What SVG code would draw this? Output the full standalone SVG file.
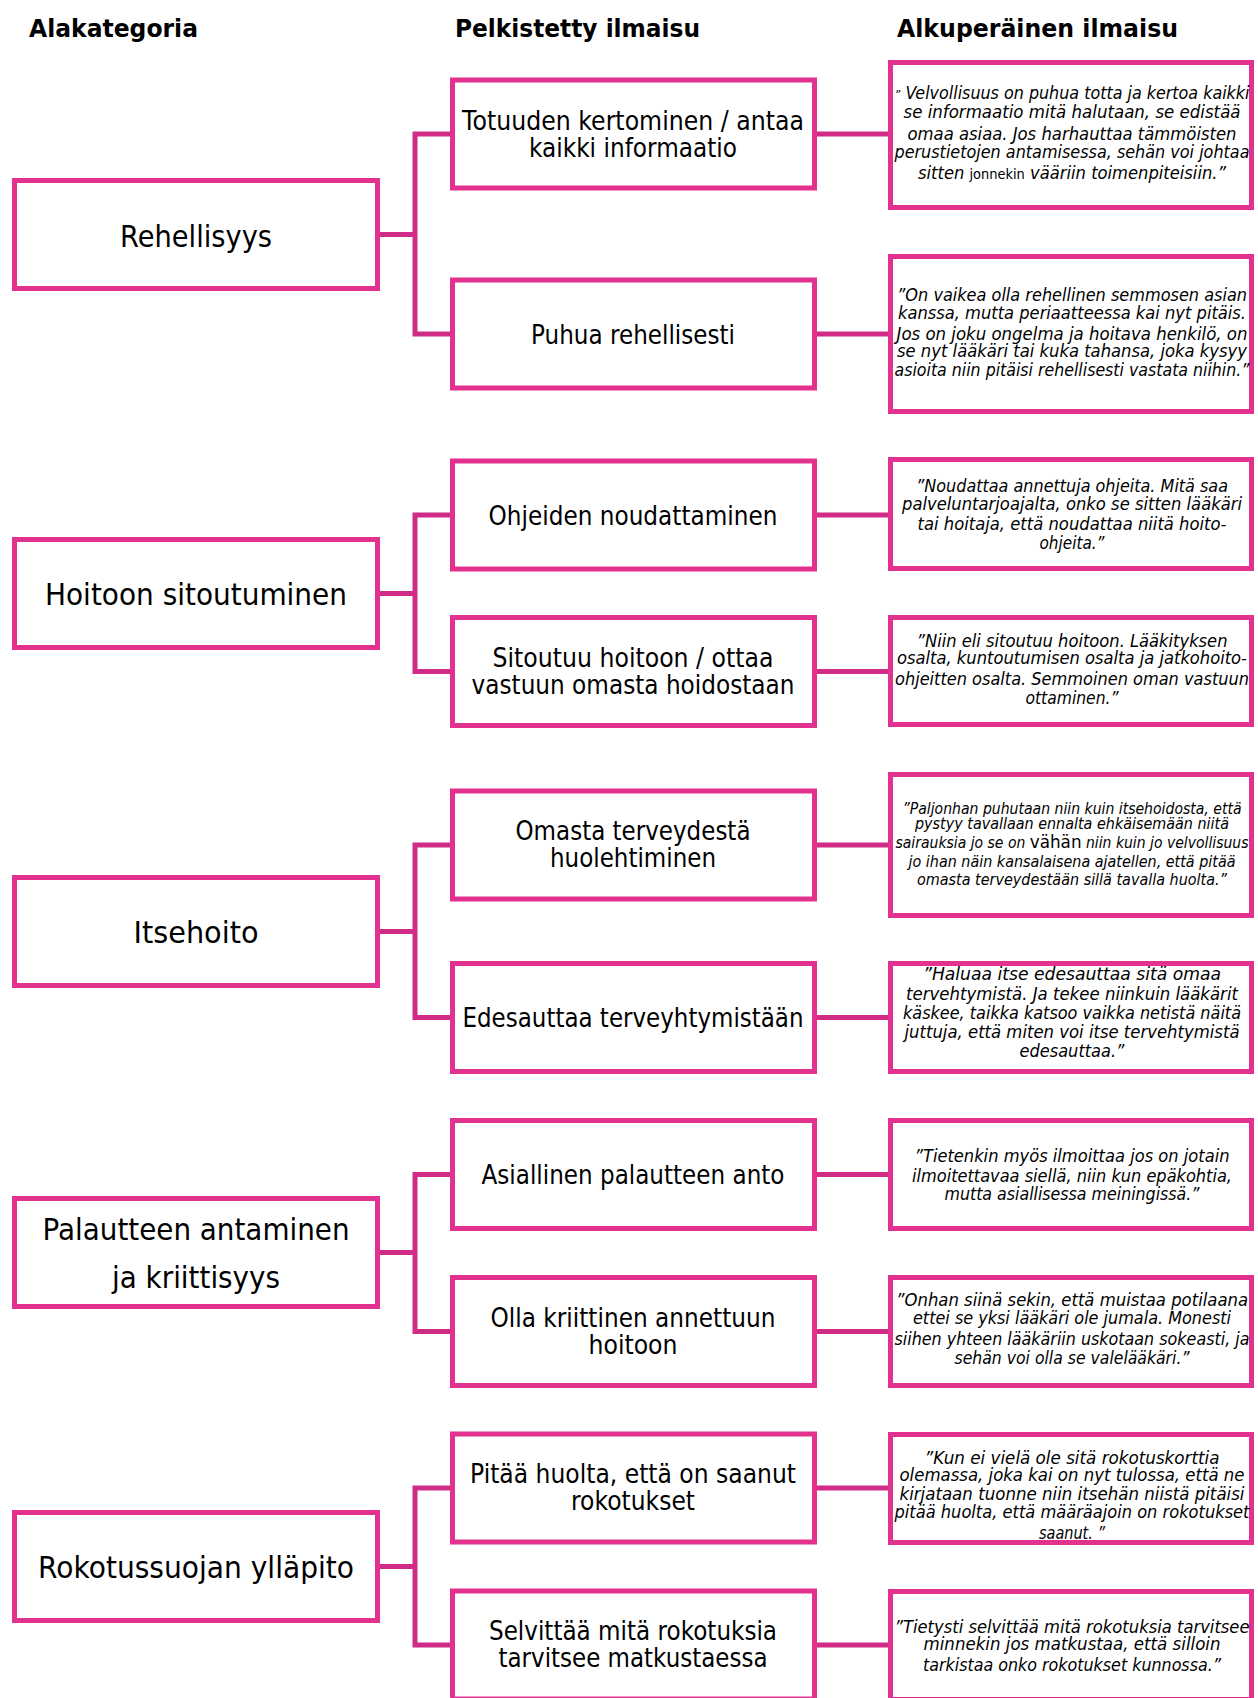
<svg xmlns="http://www.w3.org/2000/svg" width="1258" height="1698" viewBox="0 0 1258 1698">
  <style>
    .box { fill: #ffffff; stroke: #e2318f; stroke-width: 5; }
    .link { fill: none; stroke: #d02b87; stroke-width: 5; }
    text { font-family: "DejaVu Sans", Verdana, sans-serif; fill: #000000; }
    .head { font-weight: bold; font-size: 25px; }
    .cat { font-size: 31px; text-anchor: middle; }
    .simp { font-size: 27px; text-anchor: middle; }
    .quote { font-size: 17px; font-style: italic; text-anchor: middle; }
    .quote.sm { font-size: 15px; }
  </style>

  <rect width="1258" height="1698" fill="#ffffff"/>

  <!-- column headings -->
  <g id="headings">
    <text class="head" x="29" y="37" textLength="169" lengthAdjust="spacingAndGlyphs">Alakategoria</text>
    <text class="head" x="455" y="37" textLength="245" lengthAdjust="spacingAndGlyphs">Pelkistetty ilmaisu</text>
    <text class="head" x="897" y="37" textLength="281" lengthAdjust="spacingAndGlyphs">Alkuperäinen ilmaisu</text>
  </g>

  <!-- connectors -->
  <g id="connectors">
    <path class="link" d="M379,234.5 H415 M451,134 H415 V334 H451"/>
    <path class="link" d="M379,593.5 H415 M451,515 H415 V671.5 H451"/>
    <path class="link" d="M379,931.5 H415 M451,845 H415 V1017.5 H451"/>
    <path class="link" d="M379,1252.5 H415 M451,1174.5 H415 V1331.5 H451"/>
    <path class="link" d="M379,1566.5 H415 M451,1488 H415 V1645 H451"/>
    <path class="link" d="M816,134 H889"/>
    <path class="link" d="M816,334 H889"/>
    <path class="link" d="M816,515 H889"/>
    <path class="link" d="M816,671.5 H889"/>
    <path class="link" d="M816,845 H889"/>
    <path class="link" d="M816,1017.5 H889"/>
    <path class="link" d="M816,1174.5 H889"/>
    <path class="link" d="M816,1331.5 H889"/>
    <path class="link" d="M816,1488 H889"/>
    <path class="link" d="M816,1645 H889"/>
  </g>

  <!-- subcategories -->
  <g id="cat-rehellisyys">
    <rect class="box" x="14.5" y="180.5" width="363" height="108"/>
    <text class="cat" x="196" y="246.5" textLength="152" lengthAdjust="spacingAndGlyphs">Rehellisyys</text>
  </g>
  <g id="cat-hoitoon-sitoutuminen">
    <rect class="box" x="14.5" y="539.5" width="363" height="108"/>
    <text class="cat" x="196" y="605" textLength="302" lengthAdjust="spacingAndGlyphs">Hoitoon sitoutuminen</text>
  </g>
  <g id="cat-itsehoito">
    <rect class="box" x="14.5" y="877.5" width="363" height="108"/>
    <text class="cat" x="196" y="943" textLength="125" lengthAdjust="spacingAndGlyphs">Itsehoito</text>
  </g>
  <g id="cat-palautteen-antaminen">
    <rect class="box" x="14.5" y="1198.5" width="363" height="108"/>
    <text class="cat" x="196" y="1240" textLength="307" lengthAdjust="spacingAndGlyphs">Palautteen antaminen</text>
    <text class="cat" x="196" y="1288" textLength="168" lengthAdjust="spacingAndGlyphs">ja kriittisyys</text>
  </g>
  <g id="cat-rokotussuoja">
    <rect class="box" x="14.5" y="1512.5" width="363" height="108"/>
    <text class="cat" x="196" y="1578" textLength="316" lengthAdjust="spacingAndGlyphs">Rokotussuojan ylläpito</text>
  </g>

  <!-- simplified expressions -->
  <g id="simp-totuuden">
    <rect class="box" x="452.5" y="80" width="362" height="108"/>
    <text class="simp" x="633" y="130" textLength="342" lengthAdjust="spacingAndGlyphs">Totuuden kertominen / antaa</text>
    <text class="simp" x="633" y="157" textLength="208" lengthAdjust="spacingAndGlyphs">kaikki informaatio</text>
  </g>
  <g id="simp-puhua">
    <rect class="box" x="452.5" y="280" width="362" height="108"/>
    <text class="simp" x="633" y="343.5" textLength="204" lengthAdjust="spacingAndGlyphs">Puhua rehellisesti</text>
  </g>
  <g id="simp-ohjeiden">
    <rect class="box" x="452.5" y="461" width="362" height="108"/>
    <text class="simp" x="633" y="524.5" textLength="289" lengthAdjust="spacingAndGlyphs">Ohjeiden noudattaminen</text>
  </g>
  <g id="simp-sitoutuu">
    <rect class="box" x="452.5" y="617.5" width="362" height="108"/>
    <text class="simp" x="633" y="667" textLength="281" lengthAdjust="spacingAndGlyphs">Sitoutuu hoitoon / ottaa</text>
    <text class="simp" x="633" y="694" textLength="323" lengthAdjust="spacingAndGlyphs">vastuun omasta hoidostaan</text>
  </g>
  <g id="simp-omasta">
    <rect class="box" x="452.5" y="791" width="362" height="108"/>
    <text class="simp" x="633" y="840" textLength="235" lengthAdjust="spacingAndGlyphs">Omasta terveydestä</text>
    <text class="simp" x="633" y="867" textLength="166" lengthAdjust="spacingAndGlyphs">huolehtiminen</text>
  </g>
  <g id="simp-edesauttaa">
    <rect class="box" x="452.5" y="963.5" width="362" height="108"/>
    <text class="simp" x="633" y="1027" textLength="341" lengthAdjust="spacingAndGlyphs">Edesauttaa terveyhtymistään</text>
  </g>
  <g id="simp-asiallinen">
    <rect class="box" x="452.5" y="1120.5" width="362" height="108"/>
    <text class="simp" x="633" y="1184" textLength="303" lengthAdjust="spacingAndGlyphs">Asiallinen palautteen anto</text>
  </g>
  <g id="simp-kriittinen">
    <rect class="box" x="452.5" y="1277.5" width="362" height="108"/>
    <text class="simp" x="633" y="1327" textLength="285" lengthAdjust="spacingAndGlyphs">Olla kriittinen annettuun</text>
    <text class="simp" x="633" y="1354" textLength="89" lengthAdjust="spacingAndGlyphs">hoitoon</text>
  </g>
  <g id="simp-pitaa-huolta">
    <rect class="box" x="452.5" y="1434" width="362" height="108"/>
    <text class="simp" x="633" y="1483" textLength="326" lengthAdjust="spacingAndGlyphs">Pitää huolta, että on saanut</text>
    <text class="simp" x="633" y="1510" textLength="124" lengthAdjust="spacingAndGlyphs">rokotukset</text>
  </g>
  <g id="simp-selvittaa">
    <rect class="box" x="452.5" y="1591" width="362" height="108"/>
    <text class="simp" x="633" y="1640" textLength="288" lengthAdjust="spacingAndGlyphs">Selvittää mitä rokotuksia</text>
    <text class="simp" x="633" y="1667" textLength="269" lengthAdjust="spacingAndGlyphs">tarvitsee matkustaessa</text>
  </g>

  <!-- original expressions (quotes) -->
  <g id="quote-velvollisuus">
    <rect class="box" x="890.5" y="62.5" width="361" height="145"/>
    <text class="quote" x="1072" y="99" textLength="355" lengthAdjust="spacingAndGlyphs"><tspan font-size="12">”</tspan> Velvollisuus on puhua totta ja kertoa kaikki</text>
    <text class="quote" x="1072" y="118" textLength="337" lengthAdjust="spacingAndGlyphs">se informaatio  mitä halutaan, se edistää</text>
    <text class="quote" x="1072" y="140" textLength="329" lengthAdjust="spacingAndGlyphs">omaa asiaa. Jos harhauttaa tämmöisten</text>
    <text class="quote" x="1072" y="158" textLength="355" lengthAdjust="spacingAndGlyphs">perustietojen antamisessa, sehän voi johtaa</text>
    <text class="quote" x="1072" y="179" textLength="308" lengthAdjust="spacingAndGlyphs">sitten <tspan font-size="13.5" font-style="normal">jonnekin</tspan> vääriin toimenpiteisiin.”</text>
  </g>
  <g id="quote-vaikea">
    <rect class="box" x="890.5" y="256.5" width="361" height="155"/>
    <text class="quote" x="1072" y="300.5" textLength="350" lengthAdjust="spacingAndGlyphs">”On vaikea olla rehellinen semmosen asian</text>
    <text class="quote" x="1072" y="318.5" textLength="348" lengthAdjust="spacingAndGlyphs">kanssa, mutta periaatteessa kai nyt pitäis.</text>
    <text class="quote" x="1072" y="339.5" textLength="351" lengthAdjust="spacingAndGlyphs">Jos on joku ongelma ja hoitava henkilö, on</text>
    <text class="quote" x="1072" y="357" textLength="350" lengthAdjust="spacingAndGlyphs">se nyt lääkäri tai kuka tahansa, joka kysyy</text>
    <text class="quote" x="1072" y="375.5" textLength="355" lengthAdjust="spacingAndGlyphs">asioita niin pitäisi rehellisesti vastata niihin.”</text>
  </g>
  <g id="quote-noudattaa">
    <rect class="box" x="890.5" y="459.5" width="361" height="109"/>
    <text class="quote" x="1072" y="491.5" textLength="312" lengthAdjust="spacingAndGlyphs">”Noudattaa annettuja ohjeita. Mitä saa</text>
    <text class="quote" x="1072" y="510" textLength="340" lengthAdjust="spacingAndGlyphs">palveluntarjoajalta, onko se sitten lääkäri</text>
    <text class="quote" x="1072" y="529.5" textLength="309" lengthAdjust="spacingAndGlyphs">tai hoitaja, että noudattaa niitä hoito-</text>
    <text class="quote" x="1072" y="548.5" textLength="65" lengthAdjust="spacingAndGlyphs">ohjeita.”</text>
  </g>
  <g id="quote-sitoutuu">
    <rect class="box" x="890.5" y="617.5" width="361" height="107"/>
    <text class="quote" x="1072" y="646.5" textLength="311" lengthAdjust="spacingAndGlyphs">”Niin eli sitoutuu hoitoon. Lääkityksen</text>
    <text class="quote" x="1072" y="664" textLength="350" lengthAdjust="spacingAndGlyphs">osalta, kuntoutumisen osalta ja jatkohoito-</text>
    <text class="quote" x="1072" y="685" textLength="354" lengthAdjust="spacingAndGlyphs">ohjeitten osalta. Semmoinen oman vastuun</text>
    <text class="quote" x="1072" y="703.5" textLength="93" lengthAdjust="spacingAndGlyphs">ottaminen.”</text>
  </g>
  <g id="quote-itsehoidosta">
    <rect class="box" x="890.5" y="774.5" width="361" height="141"/>
    <text class="quote sm" x="1072" y="814" textLength="339" lengthAdjust="spacingAndGlyphs">”Paljonhan puhutaan niin kuin itsehoidosta, että</text>
    <text class="quote sm" x="1072" y="829" textLength="314" lengthAdjust="spacingAndGlyphs">pystyy tavallaan ennalta ehkäisemään niitä</text>
    <text class="quote sm" x="1072" y="848" textLength="353" lengthAdjust="spacingAndGlyphs">sairauksia jo se on <tspan font-size="18" font-style="normal">vähän</tspan> niin kuin jo velvollisuus</text>
    <text class="quote sm" x="1072" y="866.5" textLength="327" lengthAdjust="spacingAndGlyphs">jo ihan näin kansalaisena ajatellen, että pitää</text>
    <text class="quote sm" x="1072" y="885" textLength="310" lengthAdjust="spacingAndGlyphs">omasta terveydestään sillä tavalla huolta.”</text>
  </g>
  <g id="quote-tervehtyminen">
    <rect class="box" x="890.5" y="963.5" width="361" height="108"/>
    <text class="quote" x="1072" y="980" textLength="298" lengthAdjust="spacingAndGlyphs">”Haluaa itse edesauttaa sitä omaa</text>
    <text class="quote" x="1072" y="999.5" textLength="332" lengthAdjust="spacingAndGlyphs">tervehtymistä. Ja tekee niinkuin lääkärit</text>
    <text class="quote" x="1072" y="1018.5" textLength="338" lengthAdjust="spacingAndGlyphs">käskee, taikka katsoo vaikka netistä näitä</text>
    <text class="quote" x="1072" y="1037.5" textLength="335" lengthAdjust="spacingAndGlyphs">juttuja, että miten voi itse tervehtymistä</text>
    <text class="quote" x="1072" y="1056.5" textLength="105" lengthAdjust="spacingAndGlyphs">edesauttaa.”</text>
  </g>
  <g id="quote-ilmoittaa">
    <rect class="box" x="890.5" y="1120.5" width="361" height="108"/>
    <text class="quote" x="1072" y="1161.5" textLength="315" lengthAdjust="spacingAndGlyphs">”Tietenkin myös ilmoittaa jos on jotain</text>
    <text class="quote" x="1072" y="1181.5" textLength="320" lengthAdjust="spacingAndGlyphs">ilmoitettavaa siellä, niin kun epäkohtia,</text>
    <text class="quote" x="1072" y="1200" textLength="255" lengthAdjust="spacingAndGlyphs">mutta asiallisessa meiningissä.”</text>
  </g>
  <g id="quote-jumala">
    <rect class="box" x="890.5" y="1277.5" width="361" height="108"/>
    <text class="quote" x="1072" y="1306" textLength="352" lengthAdjust="spacingAndGlyphs">”Onhan siinä sekin, että muistaa potilaana</text>
    <text class="quote" x="1072" y="1324" textLength="318" lengthAdjust="spacingAndGlyphs">ettei se yksi lääkäri ole jumala. Monesti</text>
    <text class="quote" x="1072" y="1345" textLength="355" lengthAdjust="spacingAndGlyphs">siihen yhteen lääkäriin uskotaan sokeasti, ja</text>
    <text class="quote" x="1072" y="1363.5" textLength="235" lengthAdjust="spacingAndGlyphs">sehän voi olla se valelääkäri.”</text>
  </g>
  <g id="quote-rokotuskortti">
    <rect class="box" x="890.5" y="1434.5" width="361" height="108"/>
    <text class="quote" x="1072" y="1463.5" textLength="295" lengthAdjust="spacingAndGlyphs">”Kun ei vielä ole sitä rokotuskorttia</text>
    <text class="quote" x="1072" y="1481" textLength="345" lengthAdjust="spacingAndGlyphs">olemassa, joka kai on nyt tulossa, että ne</text>
    <text class="quote" x="1072" y="1500" textLength="345" lengthAdjust="spacingAndGlyphs">kirjataan tuonne niin itsehän niistä pitäisi</text>
    <text class="quote" x="1072" y="1517.5" textLength="355" lengthAdjust="spacingAndGlyphs">pitää huolta, että määräajoin on rokotukset</text>
    <text class="quote" x="1072" y="1538.5" textLength="66" lengthAdjust="spacingAndGlyphs">saanut. ”</text>
  </g>
  <g id="quote-matkustaa">
    <rect class="box" x="890.5" y="1591.5" width="361" height="108"/>
    <text class="quote" x="1072" y="1632.5" textLength="355" lengthAdjust="spacingAndGlyphs">”Tietysti selvittää mitä rokotuksia tarvitsee</text>
    <text class="quote" x="1072" y="1650" textLength="297" lengthAdjust="spacingAndGlyphs">minnekin jos matkustaa, että silloin</text>
    <text class="quote" x="1072" y="1670.5" textLength="298" lengthAdjust="spacingAndGlyphs">tarkistaa onko rokotukset kunnossa.”</text>
  </g>
</svg>
